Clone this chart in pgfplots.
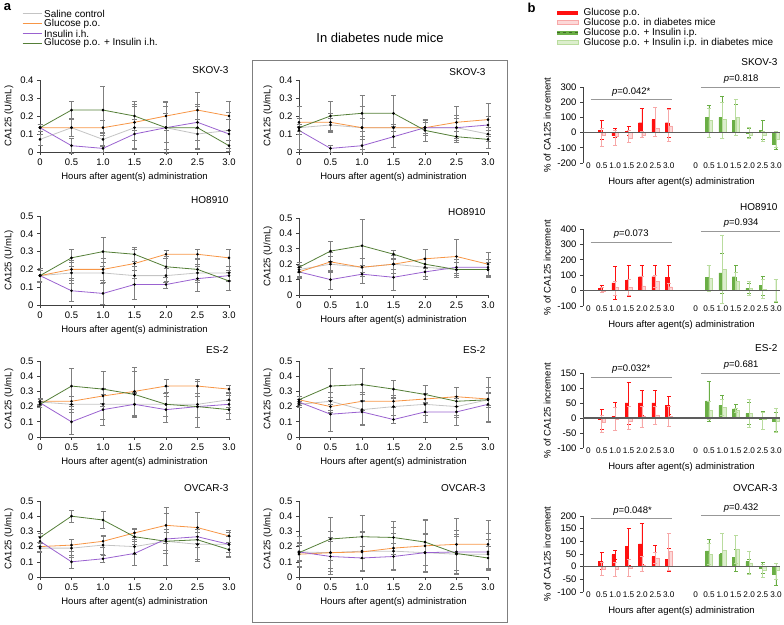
\documentclass[border=0pt]{standalone}
\usepackage{fontspec}
\setmainfont{Liberation Sans}
\usepackage{pgfplots}
\usepackage{pgfplotstable}
\pgfplotsset{compat=1.18}
\definecolor{cSal}{HTML}{C4C4C4}
\definecolor{cGlu}{HTML}{F79646}
\definecolor{cIns}{HTML}{9A62D0}
\definecolor{cCom}{HTML}{557F38}
\definecolor{cErr}{HTML}{7F7F7F}
\definecolor{cRed}{HTML}{FF1010}
\definecolor{cRedL}{HTML}{F7A8A8}
\definecolor{cRedF}{HTML}{FCD8D8}
\definecolor{cGrn}{HTML}{6AAE45}
\definecolor{cGrnL}{HTML}{B9DC9E}
\definecolor{cGrnF}{HTML}{DCEECD}
\definecolor{cAx}{HTML}{404040}
\newcommand{\fs}{\fontsize{9.5}{10}\selectfont}

% line tables: t s se g ge i ie c ce
\pgfplotstableread{
t s se g ge i ie c ce
0   0.07  0.03 0.135 0.02 0.135 0.02 0.135 0.02
0.5 0.135 0.05 0.135 0.05 0.035 0.04 0.233 0.05
1.0 0.07  0.04 0.135 0.04 0.02  0.02 0.233 0.13
1.5 0.135 0.12 0.165 0.10 0.10  0.08 0.20  0.08
2.0 0.135 0.08 0.20  0.08 0.135 0.12 0.135 0.14
2.5 0.10  0.08 0.233 0.10 0.165 0.10 0.135 0.12
3.0 0.12  0.10 0.20  0.08 0.10  0.08 0.035 0.03
}\aSKOV
\pgfplotstableread{
t s se g ge i ie c ce
0   0.165 0.04 0.165 0.03 0.165 0.03 0.165 0.03
0.5 0.18  0.06 0.20  0.05 0.08  0.06 0.265 0.05
1.0 0.18  0.06 0.20  0.06 0.065 0.06 0.30  0.08
1.5 0.165 0.05 0.233 0.08 0.115 0.08 0.285 0.04
2.0 0.165 0.04 0.285 0.02 0.115 0.02 0.215 0.06
2.5 0.18  0.05 0.285 0.03 0.148 0.07 0.20  0.06
3.0 0.18  0.04 0.265 0.05 0.165 0.03 0.135 0.05
}\aHO
\pgfplotstableread{
t s se g ge i ie c ce
0   0.23  0.02 0.235 0.02  0.225 0.03  0.215 0.02
0.5 0.215 0.05 0.235 0.03  0.10  0.08  0.335 0.12
1.0 0.215 0.10 0.27  0.05  0.18  0.10  0.315 0.115
1.5 0.215 0.08 0.30  0.16  0.215 0.07  0.28  0.15
2.0 0.215 0.08 0.335 0.045 0.18  0.085 0.215 0.12
2.5 0.215 0.15 0.335 0.045 0.20  0.07  0.20  0.07
3.0 0.245 0.05 0.315 0.025 0.215 0.06  0.18  0.06
}\aES
\pgfplotstableread{
t s se g ge i ie c ce
0   0.19  0.03 0.20  0.03 0.235 0.03 0.26  0.03
0.5 0.19  0.06 0.21  0.04 0.10  0.04 0.40  0.04
1.0 0.21  0.06 0.235 0.04 0.12  0.02 0.375 0.055
1.5 0.20  0.05 0.29  0.03 0.155 0.08 0.265 0.05
2.0 0.235 0.06 0.34  0.12 0.25  0.17 0.235 0.08
2.5 0.215 0.10 0.325 0.10 0.265 0.16 0.245 0.05
3.0 0.215 0.05 0.27  0.04 0.215 0.08 0.18  0.05
}\aOV
\pgfplotstableread{
t s se g ge i ie c ce
0   0.135 0.12 0.165 0.02 0.12  0.02  0.135 0.02
0.5 0.15  0.04 0.165 0.05 0.02  0.02  0.20  0.08
1.0 0.135 0.12 0.135 0.05 0.035 0.035 0.215 0.10
1.5 0.135 0.02 0.135 0.02 0.085 0.06  0.215 0.10
2.0 0.135 0.04 0.135 0.03 0.135 0.04  0.12  0.06
2.5 0.135 0.07 0.165 0.09 0.135 0.05  0.085 0.03
3.0 0.10  0.04 0.18  0.09 0.15  0.05  0.07  0.05
}\dSKOV
\pgfplotstableread{
t s se g ge i ie c ce
0   0.165 0.05 0.15  0.04 0.15  0.03  0.18  0.03
0.5 0.20  0.05 0.215 0.06 0.10  0.06  0.285 0.065
1.0 0.18  0.06 0.18  0.06 0.135 0.06  0.32  0.17
1.5 0.20  0.03 0.20  0.06 0.115 0.085 0.265 0.025
2.0 0.18  0.06 0.235 0.06 0.15  0.03  0.20  0.10
2.5 0.165 0.05 0.25  0.11 0.18  0.05  0.165 0.05
3.0 0.165 0.05 0.20  0.08 0.18  0.05  0.165 0.05
}\dHO
\pgfplotstableread{
t s se g ge i ie c ce
0   0.215 0.02 0.245 0.02  0.23  0.02  0.245 0.02
0.5 0.235 0.06 0.20  0.04  0.15  0.11  0.335 0.12
1.0 0.18  0.10 0.235 0.06  0.165 0.08  0.345 0.11
1.5 0.20  0.06 0.235 0.04  0.115 0.025 0.315 0.06
2.0 0.215 0.07 0.25  0.09  0.165 0.065 0.28  0.06
2.5 0.20  0.07 0.265 0.065 0.165 0.09  0.235 0.09
3.0 0.245 0.05 0.25  0.04  0.215 0.11  0.245 0.15
}\dES
\pgfplotstableread{
t s se g ge i ie c ce
0   0.165 0.10 0.15  0.08 0.165 0.06 0.16  0.05
0.5 0.16  0.14 0.16  0.10 0.135 0.10 0.25  0.14
1.0 0.17  0.13 0.165 0.13 0.125 0.08 0.265 0.14
1.5 0.17  0.12 0.19  0.14 0.135 0.09 0.26  0.11
2.0 0.16  0.13 0.205 0.17 0.16  0.12 0.23  0.15
2.5 0.15  0.13 0.215 0.17 0.165 0.14 0.155 0.11
3.0 0.15  0.10 0.215 0.16 0.165 0.12 0.125 0.08
}\dOV

% bar tables
\pgfplotstableread{
x xg rd rdhi rdlo rl rlhi rllo gd gdhi gdlo gl glhi gllo
1 9  15 80 -45 -20 30 -90  100 180 20 80 160 -30
2 10 -20 25 -30 -25 15 -85 100 240 -40 85 200 -35
3 11 10 40 -15 -35 15 -65  80 185 -20 100 220 -20
4 12 65 160 -30 -15 5 -30  -5 25 -30 -15 35 -35
5 13 85 165 0 30 165 -25   15 80 -45 -20 5 -55
6 14 65 160 -30 45 155 -55 -75 -45 -110 -45 5 -95
}\bSKOV
\pgfplotstableread{
x xg rd rdhi rdlo rl rlhi rllo gd gdhi gdlo gl glhi gllo
1 9  15 35 -10 -5 20 -10   85 165 0 80 165 -5
2 10 50 155 -60 20 60 -30  115 245 -20 140 360 -80
3 11 65 165 -35 20 75 -30  90 165 10 60 120 0
4 12 90 165 10 30 90 0     15 50 -20 15 60 -30
5 13 90 165 10 60 100 20   35 95 -30 10 75 -50
6 14 85 165 0 25 50 0      0 75 -75 0 70 -70
}\bHO
\pgfplotstableread{
x xg rd rdhi rdlo rl rlhi rllo gd gdhi gdlo gl glhi gllo
1 9  -5 28 -38 -15 8 -48   57 123 -10 25 55 -5
2 10 5 52 -42 -5 37 -42    42 77 7 35 62 8
3 11 50 120 -20 -10 38 -38 30 45 15 25 32 18
4 12 50 92 8 5 40 -32      15 52 -22 15 62 -30
5 13 50 92 8 10 40 -20     -5 22 -38 -5 20 -38
6 14 42 72 12 5 40 -28     -12 18 -45 -10 33 -48
}\bES
\pgfplotstableread{
x xg rd rdhi rdlo rl rlhi rllo gd gdhi gdlo gl glhi gllo
1 9  22 55 -10 -10 18 -35  62 108 15 50 92 10
2 10 48 65 30 -10 18 -38   48 52 42 65 130 0
3 11 80 150 5 -5 30 -38    38 70 -20 70 125 15
4 12 90 170 10 5 40 -20    20 28 -25 15 62 -30
5 13 40 85 0 35 55 15      -5 18 -25 -12 8 -42
6 14 28 72 -18 60 130 -15  -30 0 -72 -15 12 -50
}\bOV

\pgfplotsset{
  base/.style={scale only axis, axis lines*=left,
    axis line style={cAx, line width=0.6pt}, tick style={cAx, line width=0.6pt},
    major tick length=3pt, tick align=outside,
    ticklabel style={font=\fs}, label style={font=\fs},
    /pgf/number format/assume math mode=true, clip=false},
  lp/.style={base, width=189pt, xmin=0, xmax=3, ymin=0,
    xtick={0,0.5,1,1.5,2,2.5,3}, xticklabels={0,0.5,1.0,1.5,2.0,2.5,3.0},
    xlabel={Hours after agent(s) administration}, ylabel={CA125 (U/mL)},
    yticklabel style={/pgf/number format/fixed}},
  ser/.style={#1, line width=0.8pt, mark=*, mark size=0.9pt,
    mark options={black, fill=black},
    error bars/.cd, y dir=both, y explicit,
    error bar style={cErr, line width=0.5pt},
    error mark options={rotate=90, cErr, mark size=2.5pt, line width=0.5pt}},
  bp/.style={base, width=197pt, xmin=-0.4, xmax=14.3,
    xtick={0,1,2,3,4,5,6,8,9,10,11,12,13,14},
    xticklabels={0,0.5,1.0,1.5,2.0,2.5,3.0,0,0.5,1.0,1.5,2.0,2.5,3.0},
    x axis line style={draw=none}, xtick style={draw=none},
    xticklabel style={anchor=center, font=\fontsize{8.2}{9}\selectfont, inner sep=0pt},
    xlabel={Hours after agent(s) administration},
    xlabel style={yshift=-5pt},
    ylabel={\% of CA125 increment}},
  br/.style n args={4}{ybar, bar width=3.4pt, bar shift=#4, fill=#1, draw=#2,
    line width=0.4pt,
    error bars/.cd, y dir=both, y explicit,
    error bar style={#3, line width=0.7pt},
    error mark options={rotate=90, #3, mark size=2pt, line width=0.7pt}},
}
\newcommand{\lines}[1]{%
  \addplot[ser=cSal] table[x=t,y=s,y error=se]{#1};
  \addplot[ser=cGlu] table[x=t,y=g,y error=ge]{#1};
  \addplot[ser=cIns] table[x=t,y=i,y error=ie]{#1};
  \addplot[ser=cCom] table[x=t,y=c,y error=ce]{#1};
}
\newcommand{\bars}[1]{%
  \addplot[br={cRed}{cRed}{cRed}{-1.7pt}] table[x=x,y=rd,
    y error plus expr=\thisrow{rdhi}-\thisrow{rd},
    y error minus expr=\thisrow{rd}-\thisrow{rdlo}]{#1};
  \addplot[br={cRedF}{cRedL}{cRedL}{1.7pt}] table[x=x,y=rl,
    y error plus expr=\thisrow{rlhi}-\thisrow{rl},
    y error minus expr=\thisrow{rl}-\thisrow{rllo}]{#1};
  \addplot[br={cGrn}{cGrn}{cGrn}{-1.7pt}] table[x=xg,y=gd,
    y error plus expr=\thisrow{gdhi}-\thisrow{gd},
    y error minus expr=\thisrow{gd}-\thisrow{gdlo}]{#1};
  \addplot[br={cGrnF}{cGrnL}{cGrnL}{1.7pt}] table[x=xg,y=gl,
    y error plus expr=\thisrow{glhi}-\thisrow{gl},
    y error minus expr=\thisrow{gl}-\thisrow{gllo}]{#1};
  \addplot[cAx!85, line width=1.1pt, no marks] coordinates {(-0.4,0) (14.3,0)};
}
\newcommand{\pline}[5]{%
  \addplot[cErr!80, line width=0.8pt, no marks] coordinates {(0.17,#1) (6.25,#1)};
  \addplot[cErr!80, line width=0.8pt, no marks] coordinates {(8.4,#2) (14.3,#2)};
  \node[font=\fs, anchor=south] at (axis cs:#5,#1) {\textit{p}=#3};
  \node[font=\fs, anchor=south] at (axis cs:11.4,#2) {\textit{p}=#4};
}

\begin{document}
\begin{tikzpicture}
\path[use as bounding box] (0pt,0pt) rectangle (784pt,624pt);

% ---- column a, normal mice
\begin{axis}[lp, at={(40pt,472pt)}, height=72pt, ymax=0.4, ytick={0,0.1,...,0.4}]
\lines{\aSKOV}
\end{axis}
\begin{axis}[lp, at={(40pt,319pt)}, height=89pt, ymax=0.5, ytick={0,0.1,...,0.5}]
\lines{\aHO}
\end{axis}
\begin{axis}[lp, at={(40pt,187pt)}, height=76pt, ymax=0.5, ytick={0,0.1,...,0.5}]
\lines{\aES}
\end{axis}
\begin{axis}[lp, at={(40pt,47pt)}, height=76pt, ymax=0.5, ytick={0,0.1,...,0.5}]
\lines{\aOV}
\end{axis}

% ---- column a, diabetes mice
\begin{axis}[lp, at={(299pt,472pt)}, height=72pt, ymax=0.4, ytick={0,0.1,...,0.4}]
\lines{\dSKOV}
\end{axis}
\begin{axis}[lp, at={(299pt,329pt)}, height=77pt, ymax=0.5, ytick={0,0.1,...,0.5}]
\lines{\dHO}
\end{axis}
\begin{axis}[lp, at={(299pt,187pt)}, height=76pt, ymax=0.5, ytick={0,0.1,...,0.5}]
\lines{\dES}
\end{axis}
\begin{axis}[lp, at={(299pt,47pt)}, height=76pt, ymax=0.5, ytick={0,0.1,...,0.5}]
\lines{\dOV}
\end{axis}

% ---- column b
\begin{axis}[bp, at={(583pt,461pt)}, height=76pt, ymin=-200, ymax=300, ytick={-200,-100,...,300}]
\bars{\bSKOV}
\pline{217}{300}{0.042*}{0.818}{3.2}
\end{axis}
\begin{axis}[bp, at={(583pt,318pt)}, height=77pt, ymin=-100, ymax=400, ytick={-100,0,...,400}]
\bars{\bHO}
\pline{315}{385}{0.073}{0.934}{3.2}
\end{axis}
\begin{axis}[bp, at={(583pt,176pt)}, height=75pt, ymin=-100, ymax=150, ytick={-100,-50,...,150}]
\bars{\bES}
\pline{135}{150}{0.032*}{0.681}{3.2}
\end{axis}
\begin{axis}[bp, at={(583pt,32pt)}, height=76pt, ymin=-100, ymax=200, ytick={-100,-50,...,200}]
\bars{\bOV}
\pline{190}{201}{0.048*}{0.432}{3.3}
\end{axis}

% ---- cell line labels
\begin{scope}[every node/.style={anchor=east, font=\fontsize{10}{11}\selectfont}]
\node at (232pt,554pt) {SKOV-3};
\node at (232pt,424pt) {HO8910};
\node at (232pt,274pt) {ES-2};
\node at (232pt,136pt) {OVCAR-3};
\node at (489pt,552pt) {SKOV-3};
\node at (489pt,412pt) {HO8910};
\node at (489pt,274pt) {ES-2};
\node at (489pt,136pt) {OVCAR-3};
\node at (781pt,562pt) {SKOV-3};
\node at (781pt,417pt) {HO8910};
\node at (781pt,276pt) {ES-2};
\node at (781pt,136pt) {OVCAR-3};
\end{scope}

% ---- diabetes box and title
\draw[cErr, line width=1pt] (252pt,2pt) rectangle (507pt,563pt);
\node[font=\fontsize{13}{15}\selectfont] at (380pt,586pt) {In diabetes nude mice};

% ---- panel letters
\node[font=\fontsize{13}{15}\selectfont\bfseries] at (7.5pt,616.5pt) {a};
\node[font=\fontsize{13}{15}\selectfont\bfseries] at (531.5pt,616.5pt) {b};

% ---- legend a
\begin{scope}[every node/.style={anchor=west, font=\fontsize{10}{10}\selectfont, inner sep=0pt}]
\draw[cSal, line width=1pt] (22.5pt,610pt) -- (41.5pt,610pt);
\node at (44pt,610pt) {Saline control};
\draw[cGlu, line width=1pt] (22.5pt,600pt) -- (41.5pt,600pt);
\node at (44pt,600pt) {Glucose p.o.};
\draw[cIns, line width=1pt] (22.5pt,590.3pt) -- (41.5pt,590.3pt);
\node at (44pt,590.3pt) {Insulin i.h.};
\draw[cCom, line width=1pt] (22.5pt,580.7pt) -- (41.5pt,580.7pt);
\node at (44pt,580.7pt) {Glucose p.o. + Insulin i.h.};
% legend b
\fill[cRed] (557pt,609.3pt) rectangle (578pt,613.3pt);
\node at (583.5pt,611.3pt) {Glucose p.o.};
\filldraw[fill=cRedF, draw=cRedL, line width=0.6pt] (557pt,599.3pt) rectangle (578pt,603.3pt);
\node at (583.5pt,601.3pt) {Glucose p.o. in diabetes mice};
\fill[cGrn] (557pt,589.3pt) rectangle (578pt,593.3pt);
\draw[cGrn!60!black, dashed, line width=0.4pt] (557pt,591.3pt) -- (578pt,591.3pt);
\node at (583.5pt,591.3pt) {Glucose p.o. + Insulin i.p.};
\filldraw[fill=cGrnF, draw=cGrnL, line width=0.6pt] (557pt,579.3pt) rectangle (578pt,583.3pt);
\node at (583.5pt,581.3pt) {Glucose p.o. + Insulin i.p. in diabetes mice};
\end{scope}
\end{tikzpicture}
\end{document}
